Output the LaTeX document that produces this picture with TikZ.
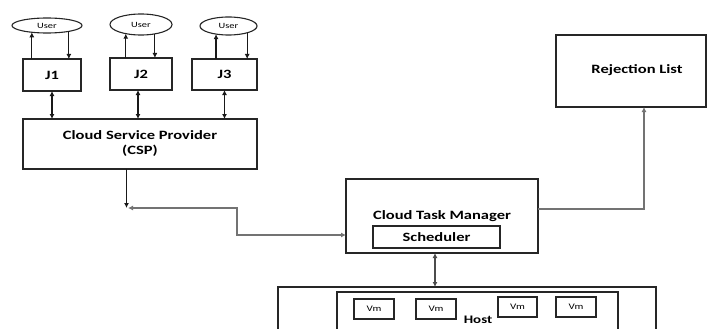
\documentclass[tikz,border=0pt]{standalone}
\usepackage{fontspec}
\setmainfont{Carlito}[FakeStretch=1.3]
\usetikzlibrary{shapes.geometric,arrows.meta}
\begin{document}
\begin{tikzpicture}[x=1pt,y=-1pt,
  box/.style={draw=black!85,line width=1.1pt,rectangle,inner sep=0pt,outer sep=0pt},
  usr/.style={draw=black!85,line width=1.1pt,ellipse,inner sep=0pt,outer sep=0pt,font=\fontsize{8}{9}\selectfont},
  lbl/.style={font=\fontsize{12.7}{15}\selectfont\bfseries},
  small/.style={font=\fontsize{8.5}{10}\selectfont},
  tip/.tip={Latex[length=5pt,width=5pt]},
  conn/.style={line width=1.1pt,draw=black!90,-tip},
  dconn/.style={line width=1.1pt,draw=black!90,tip-tip},
  gconn/.style={line width=1.4pt,draw=black!55,-tip},
  gdconn/.style={line width=1.3pt,draw=black!55,tip-tip}
]
\useasboundingbox (0,0) rectangle (707,329);
\clip (0,0) rectangle (707,329);

% users
\node[usr,minimum width=70pt,minimum height=15pt] (E1) at (47,25.5) {User};
\node[usr,minimum width=62pt,minimum height=21pt] (E2) at (141,24.5) {User};
\node[usr,minimum width=57pt,minimum height=18pt] (E3) at (228.5,26) {User};

% jobs
\node[box,lbl,minimum width=58pt,minimum height=32pt] (J1) at (52,75) {J1};
\node[box,lbl,minimum width=62pt,minimum height=32pt] (J2) at (141,74) {J2};
\node[box,lbl,minimum width=65pt,minimum height=31pt] (J3) at (224.5,74.5) {J3};

% CSP
\node[box,lbl,align=center,minimum width=234pt,minimum height=50pt] (CSP) at (140,144) {Cloud Service Provider\\(CSP)};

% cloud task manager
\node[box,lbl,minimum width=192pt,minimum height=74pt] (CTM) at (442,216) {Cloud Task Manager};
\node[box,lbl,minimum width=127pt,minimum height=22pt] (SCH) at (436.5,237) {Scheduler};

% rejection list
\node[box,lbl,minimum width=150pt,minimum height=72pt] (RL) at (631,71) {};
\node[lbl] (RLt) at (637,70) {Rejection List};

% host
\node[box,minimum width=378pt,minimum height=73pt] (HO) at (467,323.5) {};
\node[box,minimum width=281pt,minimum height=68pt] (HI) at (477.5,326) {};
\node[font=\fontsize{11.5}{13}\selectfont\bfseries] (HL) at (478,320) {Host};
\node[box,small,minimum width=40pt,minimum height=20pt] (V1) at (374,309) {Vm};
\node[box,small,minimum width=40pt,minimum height=20pt] (V2) at (436,309) {Vm};
\node[box,small,minimum width=39pt,minimum height=20pt] (V3) at (517.5,307) {Vm};
\node[box,small,minimum width=40pt,minimum height=20pt] (V4) at (576,307) {Vm};

% user <-> job arrows
\draw[conn] (E1.204 |- J1.north) -- (E1.204);
\draw[conn] (E1.345) -- (E1.345 |- J1.north);
\draw[conn] (E2.211.5 |- J2.north) -- (E2.211.5);
\draw[conn] (E2.326) -- (E2.326 |- J2.north);
\draw[conn] (E3.213 |- J3.north) -- (E3.213);
\draw[conn] (E3.340) -- (E3.340 |- J3.north);

% job <-> CSP
\draw[dconn] (J1.south) -- (J1.south |- CSP.north);
\draw[dconn] ([xshift=-3pt]J2.south) -- ([xshift=-3pt]J2.south |- CSP.north);
\draw[dconn] (J3.south) -- (J3.south |- CSP.north);

% CSP -> junction, junction <-> CTM
\coordinate (P) at (126.5,208);
\coordinate (Q) at (237,208);
\draw[conn] (CSP.south -| P) -- (P);
\draw[gdconn] ([xshift=1.5pt]P) -- (Q) |- ([yshift=-19pt]CTM.west);

% CTM -> rejection list
\draw[gconn] ([yshift=7pt]CTM.east) -| ([xshift=13pt]RL.south);

% CTM <-> host
\draw[dconn,draw=black!70] ([xshift=-7pt]CTM.south) -- ([xshift=-7pt]CTM.south |- HO.north);
\end{tikzpicture}
\end{document}
